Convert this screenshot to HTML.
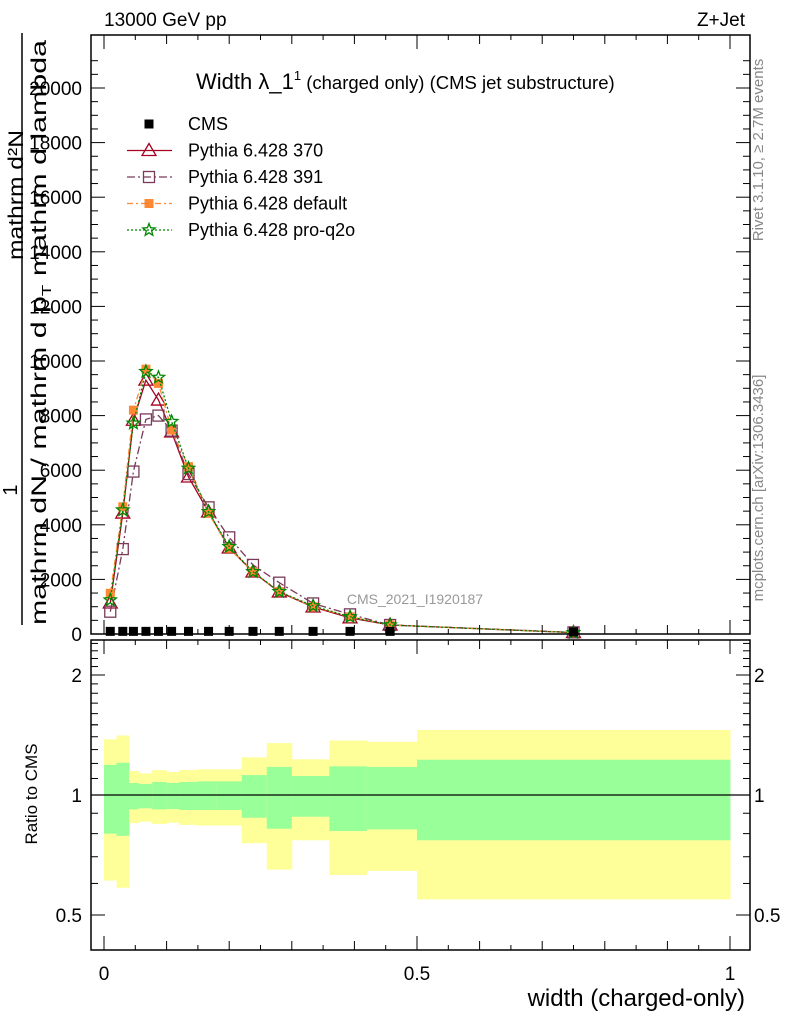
<!DOCTYPE html>
<html><head><meta charset="utf-8"><style>
body{margin:0;background:#fff;}
svg{display:block;font-family:"Liberation Sans",sans-serif;}
</style></head><body>
<svg id="c" width="786" height="1024" viewBox="0 0 786 1024" xmlns="http://www.w3.org/2000/svg">
<rect x="0" y="0" width="786" height="1024" fill="#fff"/>
<g id="ratioBands"></g>
<g id="marks"></g>
<g id="axes"></g>
<text x="104" y="26" font-size="19">13000 GeV pp</text>
<text x="745" y="26" font-size="19" text-anchor="end">Z+Jet</text>
<text x="196" y="89" font-size="22">Width λ_1<tspan font-size="13" dy="-9">1</tspan><tspan font-size="18.5" dy="9"> (charged only) (CMS jet substructure)</tspan></text>
<text x="415" y="604" font-size="14" fill="#999" text-anchor="middle">CMS_2021_I1920187</text>
<text transform="translate(763,150) rotate(-90)" font-size="15" fill="#888" text-anchor="middle">Rivet 3.1.10, ≥ 2.7M events</text>
<text transform="translate(763,488) rotate(-90)" font-size="15" fill="#888" text-anchor="middle">mcplots.cern.ch [arXiv:1306.3436]</text>
<g>
<text transform="translate(23,195) rotate(-90)" font-size="21" text-anchor="middle" textLength="130" lengthAdjust="spacingAndGlyphs">mathrm d²N</text>
<line x1="22" y1="33" x2="22" y2="625" stroke="#000" stroke-width="1.5"/>
<text transform="translate(17,490) rotate(-90)" font-size="20" text-anchor="middle">1</text>
<text transform="translate(46,625) rotate(-90)" font-size="21" textLength="585" lengthAdjust="spacingAndGlyphs">mathrm dN / mathrm d p<tspan font-size="13" dy="5">T</tspan><tspan dy="-5"> mathrm d lambda</tspan></text>
</g>
<text transform="translate(37,794) rotate(-90)" font-size="17" text-anchor="middle">Ratio to CMS</text>
<text x="745" y="1006" font-size="24" text-anchor="end">width (charged-only)</text>
<g id="legend"></g>
</svg>
<script>
const xs=[0.01,0.03,0.047,0.067,0.087,0.108,0.135,0.167,0.2,0.238,0.28,0.334,0.393,0.457,0.75];
const binEdges=[0,0.02,0.04,0.055,0.077,0.1,0.12,0.15,0.18,0.22,0.26,0.3,0.36,0.42,0.5,1.0];
const cms=[60,60,60,60,60,60,60,60,60,60,60,60,60,60,40];
const p370=[1135,4430,7830,9300,8570,7400,5750,4470,3150,2270,1540,990,590,330,50];
const p391=[817,3110,5950,7860,8000,7450,5860,4640,3540,2530,1880,1120,720,330,60];
const pDef=[1490,4660,8200,9700,9180,7470,6130,4420,3140,2280,1550,1000,630,330,50];
const pQ2o=[1245,4540,7720,9610,9400,7780,6070,4480,3200,2280,1550,1030,630,330,50];
const yellowUp=[1.38,1.41,1.149,1.133,1.155,1.142,1.155,1.16,1.16,1.243,1.35,1.229,1.37,1.36,1.456];
const greenUp=[1.19,1.205,1.072,1.066,1.078,1.072,1.078,1.082,1.082,1.122,1.176,1.116,1.18,1.176,1.226];
const greenDn=[0.80,0.79,0.92,0.926,0.92,0.922,0.917,0.917,0.917,0.877,0.823,0.882,0.812,0.82,0.77];
const yellowDn=[0.61,0.585,0.85,0.857,0.846,0.852,0.841,0.838,0.838,0.757,0.65,0.77,0.63,0.645,0.547];
const yTicks=[0,2000,4000,6000,8000,10000,12000,14000,16000,18000,20000];
const xTicks=[0,0.5,1];
const rTicks=[0.5,1,2];

const NS="http://www.w3.org/2000/svg";
const L=91,R=750,MT=35,MB=634,RT=640,RB=950;
const X=v=>104+626*v;
const Y=v=>634-v*0.0273;
const YR=r=>795-Math.log2(r)*120;
function mk(tag,attrs,parent){const e=document.createElementNS(NS,tag);for(const k in attrs)e.setAttribute(k,attrs[k]);parent.appendChild(e);return e;}

const bands=document.getElementById('ratioBands');
for(let i=0;i<binEdges.length-1;i++){
  const x1=X(binEdges[i]),w=X(binEdges[i+1])-x1;
  const y=mk('rect',{x:x1,y:YR(yellowUp[i]),width:w+0.5,height:YR(yellowDn[i])-YR(yellowUp[i]),fill:'#ffff99'},bands);
  
  
  const g=mk('rect',{x:x1,y:YR(greenUp[i]),width:w+0.5,height:YR(greenDn[i])-YR(greenUp[i]),fill:'#99ff99'},bands);
  
  
}
const one=mk('line',{x1:L,x2:R,y1:YR(1),y2:YR(1),stroke:'#000','stroke-width':1.3},bands);



const marks=document.getElementById('marks');
function marker(type,cx,cy,color,parent){
  let e;
  if(type==='tri'){e=mk('polygon',{points:`${cx},${cy-7} ${cx-7},${cy+5} ${cx+7},${cy+5}`,fill:'none',stroke:color,'stroke-width':1.3},parent);}
  else if(type==='osq'){e=mk('rect',{x:cx-5.5,y:cy-5.5,width:11,height:11,fill:'none',stroke:color,'stroke-width':1.3},parent);}
  else if(type==='fsq'){e=mk('rect',{x:cx-4.5,y:cy-4.5,width:9,height:9,fill:color},parent);}
  else if(type==='star'){let p=[];for(let k=0;k<10;k++){const r=k%2?2.8:6.5,a=-Math.PI/2+k*Math.PI/5;p.push((cx+r*Math.cos(a)).toFixed(1)+','+(cy+r*Math.sin(a)).toFixed(1));}
    e=mk('polygon',{points:p.join(' '),fill:'none',stroke:color,'stroke-width':1.3},parent);}
  return e;
}
const series=[
 {name:'p370',vals:p370,color:'#a50021',dash:'',m:'tri'},
 {name:'p391',vals:p391,color:'#7a3a5a',dash:'8,3,2,3',m:'osq'},
 {name:'default',vals:pDef,color:'#ff8833',dash:'6,3,2,3',m:'fsq'},
 {name:'pro-q2o',vals:pQ2o,color:'#008800',dash:'2,2',m:'star'}
];
series.forEach(s=>{
  const g=mk('g',{},marks);
  
  
  const pts=s.vals.map((v,i)=>X(xs[i]).toFixed(1)+','+Y(v).toFixed(1)).join(' ');
  const pl=mk('polyline',{points:pts,fill:'none',stroke:s.color,'stroke-width':1.3,'stroke-dasharray':s.dash},g);
  
  
  s.vals.forEach((v,i)=>{
    const e=marker(s.m,X(xs[i]),Y(v),s.color,g);
    
    
  });
});
cms.forEach((v,i)=>{
  const e=marker('fsq',X(xs[i]),Y(v)-1,'#000',marks);
  
  
});

const ax=document.getElementById('axes');
function ln(x1,y1,x2,y2,w,name){const e=mk('line',{x1,y1,x2,y2,stroke:'#000','stroke-width':w||1.3},ax);return e;}
function tx(x,y,s,anchor,size,name){const e=mk('text',{x,y,'font-size':size,'text-anchor':anchor},ax);e.textContent=s;return e;}
[[MT,MB],[RT,RB]].forEach(([t,b],k)=>{
  const r=mk('rect',{x:L,y:t,width:R-L,height:b-t,fill:'none',stroke:'#000','stroke-width':1.5},ax);
  
  
});
for(let v=0;v<=21000;v+=500){const y=Y(v);if(y<MT)break;const big=v%2000===0;
  ln(L,y,L+(big?14:7),y,1,'y-tick');ln(R,y,R-(big?14:7),y,1,'y-tick-right');}
yTicks.forEach(v=>tx(82,Y(v)+7,String(v),'end',19,'y-tick-label'));
for(let v=0;v<=1.0001;v+=0.05){const x=X(v);const big=Math.abs(v*10-Math.round(v*10))<1e-6&&Math.round(v*10)%5===0;const med=Math.abs(v*10-Math.round(v*10))<1e-6;
  const h=big?14:(med?9:5);
  ln(x,MB,x,MB-h,1,'x-tick');ln(x,MT,x,MT+h,1,'x-tick-top');
  ln(x,RB,x,RB-h,1,'ratio-x-tick');ln(x,RT,x,RT+h,1,'ratio-x-tick-top');}
xTicks.forEach(v=>tx(X(v),980,String(v),'middle',19,'x-tick-label'));
[0.4,0.5,0.6,0.7,0.8,0.9,1,1.5,2,2.5].forEach(r=>{const y=YR(r);if(y<RT||y>RB)return;const big=(r===0.5||r===1||r===2);
  ln(L,y,L+(big?14:7),y,1,'ratio-y-tick');ln(R,y,R-(big?14:7),y,1,'ratio-y-tick-right');});
for(let r=1.1;r<2.6;r+=0.1){const y=YR(r);if(y<RT)break;ln(L,y,L+7,y,1,'ratio-y-minor');ln(R,y,R-7,y,1,'ratio-y-minor-right');}
rTicks.forEach(r=>{tx(82,YR(r)+7,String(r),'end',19,'ratio-y-label');tx(754,YR(r)+7,String(r),'start',19,'ratio-y-label-right');});

const lg=document.getElementById('legend');
const entries=[['CMS','#000','','fsq'],['Pythia 6.428 370','#a50021','','tri'],['Pythia 6.428 391','#7a3a5a','8,3,2,3','osq'],['Pythia 6.428 default','#ff8833','6,3,2,3','fsq'],['Pythia 6.428 pro-q2o','#008800','2,2','star']];
entries.forEach((e,i)=>{
  const y=124+i*26.5;
  const g=mk('g',{},lg);
  
  
  if(i>0)mk('line',{x1:127,x2:172,y1:y,y2:y,stroke:e[1],'stroke-width':1.3,'stroke-dasharray':e[2]},g);
  marker(e[3],149,y,e[1],g);
  const t=mk('text',{x:188,y:y+6,'font-size':18},g);t.textContent=e[0];
});
</script>
</body></html>
